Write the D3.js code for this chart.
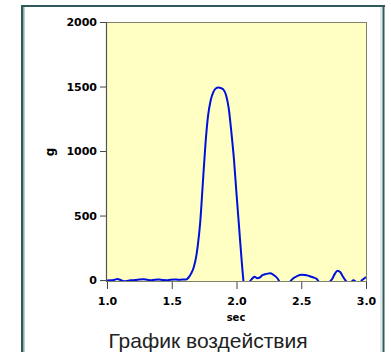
<!DOCTYPE html>
<html>
<head>
<meta charset="utf-8">
<script src="https://cdn.jsdelivr.net/npm/d3@7"></script>
<style>
  body { margin: 0; background: #fff; }
  .tick text { font-family: "DejaVu Sans", sans-serif; font-weight: bold; font-size: 11px; fill: #000; }
</style>
</head>
<body>
<div id="chart"></div>
<script>
// data
var seconds = [1.00, 1.03, 1.06, 1.08, 1.10, 1.13, 1.15, 1.18, 1.22, 1.25, 1.28, 1.31, 1.34, 1.37, 1.40,
  1.43, 1.46, 1.49, 1.52, 1.55, 1.58, 1.61, 1.63, 1.65, 1.67, 1.69, 1.70, 1.72, 1.74, 1.76, 1.78,
  1.80, 1.82, 1.84, 1.86, 1.88, 1.90, 1.92, 1.94, 1.96, 1.98, 2.00, 2.02, 2.04, 2.06, 2.08, 2.10,
  2.12, 2.14, 2.16, 2.18, 2.20, 2.22, 2.24, 2.26, 2.28, 2.30, 2.32, 2.34, 2.37, 2.40, 2.42, 2.44,
  2.47, 2.50, 2.53, 2.56, 2.59, 2.62, 2.64, 2.67, 2.70, 2.72, 2.74, 2.76, 2.78, 2.80, 2.82, 2.84,
  2.86, 2.88, 2.90, 2.91, 2.93, 2.95, 2.97, 2.99, 3.00];
var gValues = [-3, -2, 3, 8, 2, -10, -8, -2, 0, 5, 6, 2, -2, 3, 4,
  0, -1, 3, 5, 2, 4, 5, 20, 52, 100, 190, 260, 450, 750, 1050, 1270,
  1390, 1455, 1485, 1492, 1488, 1475, 1430, 1330, 1150, 940, 670, 410, 150, -60, -120, -20,
  10, 25, 15, 20, 38, 45, 50, 52, 45, 30, 8, -30, -60, -40, -5, 15,
  32, 42, 40, 32, 22, 8, -20, -60, -50, -15, 10, 50, 72, 62, 30, 0,
  -20, -20, -2, -3, -25, -25, 0, 15, 25];
var xTicks = [1.0, 1.5, 2.0, 2.5, 3.0];
var yTicks = [0, 500, 1000, 1500, 2000];

var W = 391, H = 352;
var plot = {left: 106, right: 367, top: 22, bottom: 282};

var svg = d3.select("#chart").append("svg")
  .attr("width", W).attr("height", H);

// outer frame
svg.append("line").attr("x1", 22).attr("x2", 22).attr("y1", 5).attr("y2", H)
  .attr("stroke", "#2f5a5c").attr("stroke-width", 2);
svg.append("line").attr("x1", 23.8).attr("x2", 23.8).attr("y1", 6).attr("y2", H)
  .attr("stroke", "#8fa8aa").attr("stroke-width", 1.5);
svg.append("line").attr("x1", 21).attr("x2", 385).attr("y1", 6).attr("y2", 6)
  .attr("stroke", "#2f5a5c").attr("stroke-width", 2);
svg.append("line").attr("x1", 383.5).attr("x2", 383.5).attr("y1", 5).attr("y2", H)
  .attr("stroke", "#2f5a5c").attr("stroke-width", 2);
svg.append("line").attr("x1", 381).attr("x2", 381).attr("y1", 7).attr("y2", H)
  .attr("stroke", "#c4d0d2").attr("stroke-width", 1);

var x = d3.scaleLinear().domain([1, 3]).range([107, 366]);
var y = d3.scaleLinear().domain([-15, 2000]).range([plot.bottom, plot.top]);

// plot background
svg.append("rect")
  .attr("x", plot.left).attr("y", plot.top)
  .attr("width", plot.right - plot.left).attr("height", plot.bottom - plot.top)
  .attr("fill", "#ffffc4");

svg.append("clipPath").attr("id", "clip")
  .append("rect")
  .attr("x", plot.left).attr("y", plot.top)
  .attr("width", plot.right - plot.left).attr("height", plot.bottom - plot.top - 1);

var line = d3.line()
  .x(function(d, i) { return x(seconds[i]); })
  .y(function(d) { return y(d); })
  .curve(d3.curveMonotoneX);

svg.append("path")
  .datum(gValues)
  .attr("clip-path", "url(#clip)")
  .attr("fill", "none")
  .attr("stroke", "#0010dc")
  .attr("stroke-width", 2)
  .attr("d", line);

// plot border
svg.append("rect")
  .attr("x", plot.left + 0.5).attr("y", plot.top + 0.5)
  .attr("width", plot.right - plot.left - 1).attr("height", plot.bottom - plot.top - 1)
  .attr("fill", "none").attr("stroke", "#80806a").attr("stroke-width", 1);
svg.append("line").attr("x1", plot.left + 0.5).attr("x2", plot.left + 0.5)
  .attr("y1", plot.top).attr("y2", plot.bottom)
  .attr("stroke", "#555").attr("stroke-width", 1.2);

// axes
var yAxis = d3.axisLeft(y).tickValues(yTicks).tickFormat(d3.format("d")).tickSize(6).tickPadding(3);
svg.append("g")
  .attr("transform", "translate(" + plot.left + ",0)")
  .call(yAxis)
  .call(function(g) { g.select(".domain").remove(); })
  .call(function(g) { g.selectAll(".tick line").attr("stroke", "#444"); });

var xAxis = d3.axisBottom(x).tickValues(xTicks).tickFormat(d3.format(".1f")).tickSize(7).tickPadding(8);
svg.append("g")
  .attr("transform", "translate(0," + plot.bottom + ")")
  .call(xAxis)
  .call(function(g) { g.select(".domain").remove(); })
  .call(function(g) { g.selectAll(".tick line").attr("stroke", "#444"); });

// axis titles
svg.append("text")
  .attr("x", 236).attr("y", 321)
  .attr("text-anchor", "middle")
  .style("font-family", "DejaVu Sans, sans-serif")
  .style("font-weight", "bold").style("font-size", "10px")
  .text("sec");

svg.append("text")
  .attr("transform", "translate(54,152) rotate(-90)")
  .attr("text-anchor", "middle")
  .style("font-family", "DejaVu Sans, sans-serif")
  .style("font-weight", "bold").style("font-size", "12px")
  .text("g");

svg.append("text")
  .attr("x", 208).attr("y", 348)
  .attr("text-anchor", "middle")
  .style("font-family", "Liberation Sans, Arial, sans-serif")
  .style("font-size", "21px").style("fill", "#222")
  .text("График воздействия");
</script>
</body>
</html>
